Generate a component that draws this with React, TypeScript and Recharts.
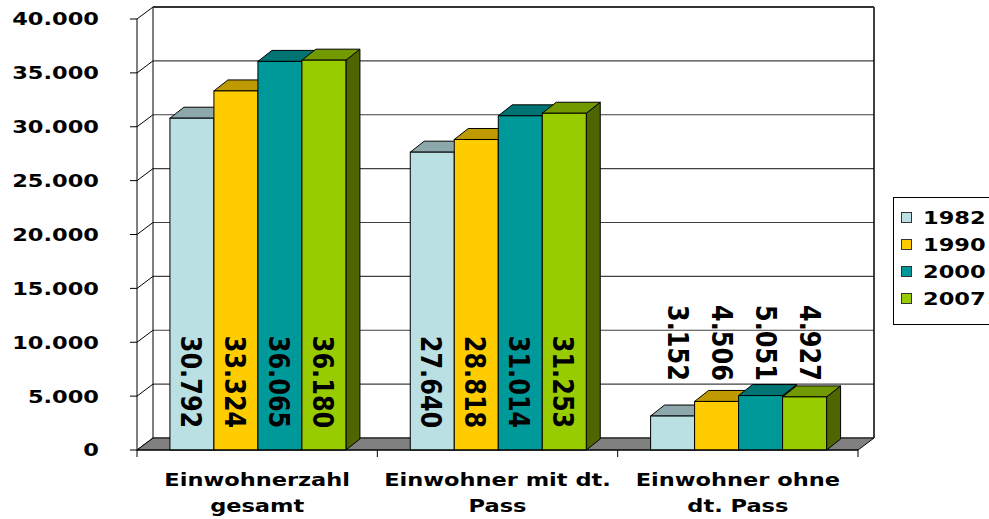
import React from 'react';
import { BarChart, Bar, XAxis, YAxis, CartesianGrid, ReferenceArea, LabelList, Legend } from 'recharts';

const categories = ['Einwohnerzahl\ngesamt', 'Einwohner mit dt.\nPass', 'Einwohner ohne\ndt. Pass'];
const seriesNames = ['1982', '1990', '2000', '2007'];
const values1982 = [30792, 27640, 3152];
const values1990 = [33324, 28818, 4506];
const values2000 = [36065, 31014, 5051];
const values2007 = [36180, 31253, 4927];
const yTicks = [0, 5000, 10000, 15000, 20000, 25000, 30000, 35000, 40000];

const frontColors = ['#BBE0E3', '#FFCC00', '#009999', '#99CC00'];
const topColors = ['#8CA8AA', '#BF9900', '#007373', '#739900'];
const sideColors = ['#7A9294', '#9F7F00', '#006060', '#4D6600'];

const data = categories.map((name, i) => ({
  name,
  y1982: values1982[i],
  y1990: values1990[i],
  y2000: values2000[i],
  y2007: values2007[i],
}));

const FONT = '"DejaVu Sans", Verdana, sans-serif';
const SX = 1.25;
const BAR_DX = 14;
const BAR_DY = 11;
const WALL_DX = 16;
const WALL_DY = 12;

const fmt = (v: number) => String(v).replace(/\B(?=(\d{3})+(?!\d))/g, '.');

const makeBarShape = (idx: number) => (props: any) => {
  const { x, y, width, height } = props;
  if (width == null || height == null) return <g />;
  const x0 = Number(x), y0 = Number(y), w = Number(width), h = Number(height);
  const top = `${x0},${y0} ${x0 + BAR_DX},${y0 - BAR_DY} ${x0 + w + BAR_DX},${y0 - BAR_DY} ${x0 + w},${y0}`;
  const side = `${x0 + w},${y0} ${x0 + w + BAR_DX},${y0 - BAR_DY} ${x0 + w + BAR_DX},${y0 + h - BAR_DY} ${x0 + w},${y0 + h}`;
  return (
    <g>
      <polygon points={side} fill={sideColors[idx]} stroke="#000" strokeWidth={1} strokeLinejoin="round" />
      <polygon points={top} fill={topColors[idx]} stroke="#000" strokeWidth={1} strokeLinejoin="round" />
      <rect x={x0} y={y0} width={w} height={h} fill={frontColors[idx]} stroke="#000" strokeWidth={1} />
    </g>
  );
};

const renderLabel = (props: any) => {
  const vb = props.viewBox && props.viewBox.width != null ? props.viewBox : props;
  const x = Number(vb.x), y = Number(vb.y), w = Number(vb.width), h = Number(vb.height);
  const bottom = y + h;
  const big = h > 150;
  const cx = x + w / 2 + (big ? -1 : 6);
  const cy = big ? bottom - 68 : bottom - 107;
  return (
    <text
      transform={`translate(${cx},${cy}) scale(1.2,1) rotate(90)`}
      textAnchor="middle"
      dominantBaseline="central"
      fontFamily={FONT}
      fontWeight="bold"
      fontSize={24}
      fill="#000"
    >
      {fmt(Number(props.value))}
    </text>
  );
};

const YTick = (props: any) => {
  const { x, y, payload } = props;
  return (
    <g transform={`translate(${x},${y}) scale(${SX},1)`}>
      <text x={0} y={0} dy="0.36em" textAnchor="end" fontFamily={FONT} fontWeight="bold" fontSize={18} fill="#000">
        {fmt(payload.value)}
      </text>
    </g>
  );
};

const XTick = (props: any) => {
  const { x, y, payload } = props;
  const lines = String(payload.value).split('\n');
  return (
    <g transform={`translate(${x},${y})`}>
      {lines.map((l, i) => (
        <text
          key={i}
          transform={`translate(0,${36 + i * 26}) scale(${SX},1)`}
          textAnchor="middle"
          fontFamily={FONT}
          fontWeight="bold"
          fontSize={18}
          fill="#000"
        >
          {l}
        </text>
      ))}
    </g>
  );
};

const gridLine = (p: any) => {
  const { x1, x2, y1, index } = p;
  const y = Number(y1);
  return (
    <g key={`g-${index}-${y}`}>
      <line x1={x1} y1={y} x2={Number(x1) + WALL_DX} y2={y - WALL_DY} stroke="#000" strokeWidth={1} />
      <line x1={Number(x1) + WALL_DX} y1={y - WALL_DY} x2={Number(x2) + WALL_DX} y2={y - WALL_DY} stroke="#404040" strokeWidth={1.2} />
    </g>
  );
};

const WallShape = (props: any) => {
  const { x, y, width, height } = props;
  const x0 = Number(x), y0 = Number(y), w = Number(width), h = Number(height);
  const b = y0 + h;
  const floor = `${x0},${b} ${x0 + WALL_DX},${b - WALL_DY} ${x0 + w + WALL_DX},${b - WALL_DY} ${x0 + w},${b}`;
  const ticks = [0, 1, 2, 3].map((k) => x0 + (k * w) / 3);
  return (
    <g>
      <line x1={x0 + WALL_DX} y1={y0 - WALL_DY} x2={x0 + WALL_DX} y2={b - WALL_DY} stroke="#000" strokeWidth={1} />
      <line x1={x0 + w + WALL_DX} y1={y0 - WALL_DY} x2={x0 + w + WALL_DX} y2={b - WALL_DY} stroke="#000" strokeWidth={1.5} />
      <line x1={x0 + WALL_DX} y1={y0 - WALL_DY} x2={x0 + w + WALL_DX} y2={y0 - WALL_DY} stroke="#333" strokeWidth={2} />
      <polygon points={floor} fill="#808080" stroke="#000" strokeWidth={1} />
      {ticks.map((tx, i) => (
        <line key={i} x1={tx} y1={b} x2={tx} y2={b + 7} stroke="#000" strokeWidth={1} />
      ))}
    </g>
  );
};

const renderLegend = () => (
  <div
    style={{
      position: 'relative',
      width: 110,
      height: 128,
      border: '1px solid #000',
      background: '#fff',
      boxSizing: 'border-box',
    }}
  >
    {seriesNames.map((s, i) => (
      <div key={s} style={{ position: 'absolute', left: 0, top: 20 + i * 27 - 13, height: 26, width: 110 }}>
        <div
          style={{
            position: 'absolute',
            left: 7,
            top: 7,
            width: 11,
            height: 11,
            boxSizing: 'border-box',
            border: '1px solid #333',
            background: frontColors[i],
          }}
        />
        <div
          style={{
            position: 'absolute',
            left: 29,
            top: 0,
            height: 26,
            lineHeight: '26px',
            fontFamily: FONT,
            fontWeight: 'bold',
            fontSize: 18,
            color: '#000',
            transform: `scaleX(${SX})`,
            transformOrigin: 'left center',
            whiteSpace: 'nowrap',
          }}
        >
          {s}
        </div>
      </div>
    ))}
  </div>
);

export default function App() {
  return (
    <div style={{ position: 'absolute', left: 0, top: 0, width: 989, height: 519, overflow: 'hidden', background: '#fff' }}>
      <BarChart
        width={989}
        height={519}
        data={data}
        margin={{ top: 19, right: 131, bottom: 0, left: 0 }}
        barGap={0}
        barCategoryGap="13.7%"
      >
        <CartesianGrid vertical={false} horizontal={gridLine as any} />
        <ReferenceArea y1={0} y2={40000} shape={WallShape as any} ifOverflow="visible" />
        <XAxis
          dataKey="name"
          height={69}
          axisLine={{ stroke: '#000', strokeWidth: 1 }}
          tickLine={false}
          tickSize={0}
          tickMargin={0}
          interval={0}
          tick={XTick as any}
        />
        <YAxis
          width={137}
          domain={[0, 40000]}
          ticks={yTicks}
          interval={0}
          axisLine={{ stroke: '#000', strokeWidth: 1 }}
          tickLine={{ stroke: '#000', strokeWidth: 1 }}
          tickSize={7}
          tickMargin={31}
          tick={YTick as any}
        />
        <Legend
          layout="vertical"
          align="center"
          verticalAlign="middle"
          content={renderLegend as any}
          wrapperStyle={{ left: 893, top: 197, width: 110, height: 128 }}
        />
        <Bar dataKey="y1982" name="1982" isAnimationActive={false} shape={makeBarShape(0) as any}>
          <LabelList dataKey="y1982" content={renderLabel as any} />
        </Bar>
        <Bar dataKey="y1990" name="1990" isAnimationActive={false} shape={makeBarShape(1) as any}>
          <LabelList dataKey="y1990" content={renderLabel as any} />
        </Bar>
        <Bar dataKey="y2000" name="2000" isAnimationActive={false} shape={makeBarShape(2) as any}>
          <LabelList dataKey="y2000" content={renderLabel as any} />
        </Bar>
        <Bar dataKey="y2007" name="2007" isAnimationActive={false} shape={makeBarShape(3) as any}>
          <LabelList dataKey="y2007" content={renderLabel as any} />
        </Bar>
      </BarChart>
    </div>
  );
}
